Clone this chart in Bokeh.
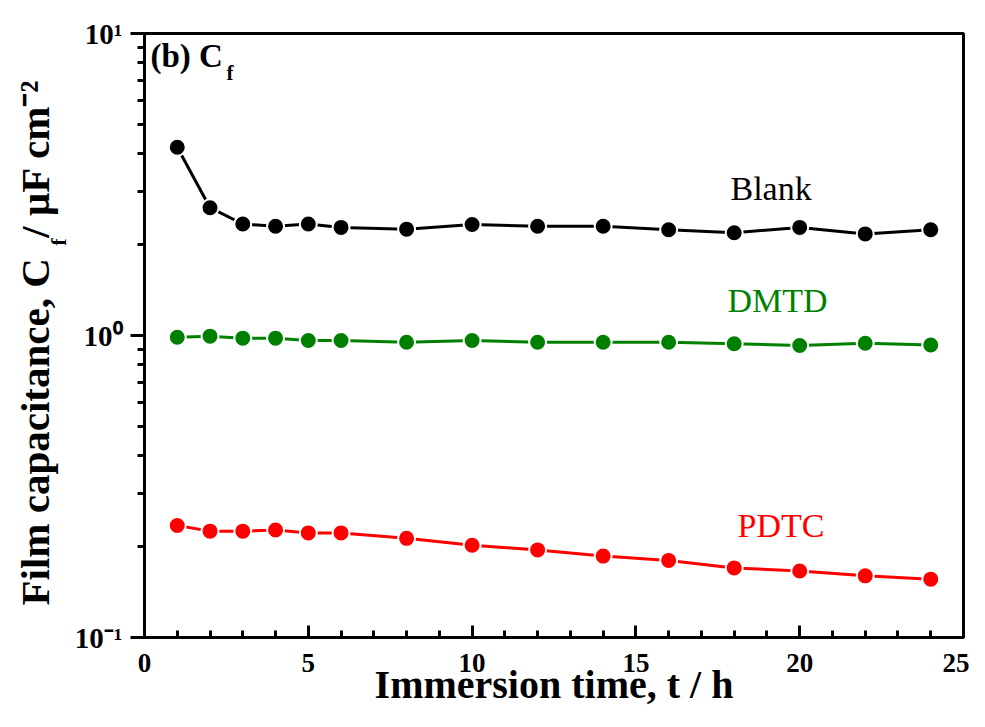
from bokeh.plotting import figure
from bokeh.models import (Range1d, Label, FixedTicker, SingleIntervalTicker,
                          CustomJSTickFormatter, Title, LogAxis)
from bokeh.embed import file_html
from bokeh.resources import INLINE

# ---------------- data ----------------
time_h = [1, 2, 3, 4, 5, 6, 8, 10, 12, 14, 16, 18, 20, 22, 24]
blank_cf = [4.20, 2.65, 2.34, 2.30, 2.34, 2.28, 2.25, 2.33, 2.30, 2.30, 2.24, 2.19, 2.28, 2.17, 2.24]
dmtd_cf = [0.987, 0.995, 0.980, 0.980, 0.963, 0.963, 0.950, 0.963, 0.950, 0.950, 0.950, 0.939, 0.927, 0.943, 0.930]
pdtc_cf = [0.235, 0.225, 0.225, 0.227, 0.222, 0.222, 0.213, 0.202, 0.195, 0.186, 0.180, 0.170, 0.166, 0.160, 0.156]

series_names = ["Blank", "DMTD", "PDTC"]
series_values = [blank_cf, dmtd_cf, pdtc_cf]
series_colors = ["#000000", "#008000", "#ff0000"]

x_major_interval = 5
y_major_ticks = [0.1, 1, 10]
y_tick_labels = ["10\u207b\u00b9", "10\u2070", "10\u00b9"]
y_minor_ticks = [0.2, 0.3, 0.4, 0.5, 0.6, 0.7, 0.8, 0.9, 2, 3, 4, 5, 6, 7, 8, 9]

x_title = "Immersion time, t / h"
y_title_main = "Film capacitance, C\u00a0\u00a0/ \u03bcF cm\u207b\u00b2"
y_title_sub = "f"
panel_title = "(b) C"
panel_title_sub = "f"

FONT = "Liberation Serif"

# ---------------- layout constants (pixels) ----------------
W, H = 969, 711
FRAME_L, FRAME_T, FRAME_R, FRAME_B = 144, 33, 963, 637
FRAME_W = FRAME_R - FRAME_L
FRAME_H = FRAME_B - FRAME_T
MID = 0.34  # distance baseline -> text middle, in em


def ypix_to_val(y):
    """pixel row -> value on the log y axis (0.1 .. 10)"""
    return 10 ** (1 - 2 * (y - FRAME_T) / FRAME_H)


def xpix_to_val(x):
    """pixel column -> value on the x axis (0 .. 25)"""
    return (x - FRAME_L) / FRAME_W * 25


# series name labels: (left x pixel, baseline y pixel)
name_pos = [(730, 200), (727, 312), (737, 537)]
name_size = 34

p = figure(width=W, height=H,
           x_range=Range1d(0, 25), y_range=Range1d(0.1, 10),
           y_axis_type="log",
           output_backend="svg", toolbar_location=None,
           min_border_left=FRAME_L, min_border_right=W - FRAME_R,
           min_border_top=FRAME_T, min_border_bottom=H - FRAME_B)

p.grid.visible = False
p.outline_line_color = "black"
p.outline_line_width = 3
p.background_fill_color = "white"
p.border_fill_color = "white"

# ---------------- x axis ----------------
xa = p.xaxis[0]
xa.ticker = SingleIntervalTicker(interval=x_major_interval, num_minor_ticks=5)
xa.axis_line_color = "black"
xa.axis_line_width = 3
xa.major_tick_line_color = "black"
xa.minor_tick_line_color = "black"
xa.major_tick_line_width = 3
xa.minor_tick_line_width = 3
xa.major_tick_in = 12
xa.major_tick_out = 0
xa.minor_tick_in = 7
xa.minor_tick_out = 0
xa.major_label_text_font = FONT
xa.major_label_text_font_style = "bold"
xa.major_label_text_font_size = "27px"
xa.major_label_text_color = "black"
xa.major_label_standoff = 16
xa.axis_label = x_title
xa.axis_label_text_font = FONT
xa.axis_label_text_font_style = "bold"
xa.axis_label_text_font_size = "40px"
xa.axis_label_text_color = "black"
xa.axis_label_standoff = -13

# ---------------- y axis: rule and ticks only ----------------
ya = p.yaxis[0]
ya.ticker = FixedTicker(ticks=y_major_ticks, minor_ticks=y_minor_ticks)
ya.formatter = CustomJSTickFormatter(code="return ''")
ya.axis_line_color = "black"
ya.axis_line_width = 3
ya.major_tick_line_color = "black"
ya.minor_tick_line_color = "black"
ya.major_tick_line_width = 3
ya.minor_tick_line_width = 3
ya.major_tick_in = 0
ya.major_tick_out = 14
ya.minor_tick_in = 0
ya.minor_tick_out = 7
ya.major_label_standoff = 0

# ---------------- y tick labels (10^n) + subscript of the y title ----------------
SUB_SIZE = 22
sub_shift = 2 * (335 - 242)            # pixels the subscript centre must move up
n_pad = round(sub_shift / (0.25 * SUB_SIZE))
yl = LogAxis(ticker=FixedTicker(ticks=y_major_ticks, minor_ticks=[]),
             formatter=CustomJSTickFormatter(args=dict(labels=y_tick_labels),
                                             code="return labels[index] ?? ''"),
             axis_line_color=None, major_tick_line_color=None, minor_tick_line_color=None,
             major_tick_in=0, major_tick_out=0, minor_tick_in=0, minor_tick_out=0,
             major_label_standoff=8,
             major_label_text_font=FONT, major_label_text_font_style="bold",
             major_label_text_font_size="29px", major_label_text_color="black",
             axis_label="\u00a0" * n_pad + y_title_sub,
             axis_label_standoff=1,
             axis_label_text_font=FONT, axis_label_text_font_style="bold",
             axis_label_text_font_size=f"{SUB_SIZE}px", axis_label_text_color="black")
p.add_layout(yl, "left")

# ---------------- main y title text ----------------
try:
    ytitle = Title(text=y_title_main, standoff=-30)
except Exception:
    ytitle = Title(text=y_title_main, standoff=0)
ytitle.align = "left"
ytitle.offset = FRAME_B - 605
ytitle.text_font = FONT
ytitle.text_font_style = "bold"
ytitle.text_font_size = "41px"
ytitle.text_color = "black"
p.add_layout(ytitle, "left")

# ---------------- series ----------------
for name, vals, col, (nx, ny) in zip(series_names, series_values, series_colors, name_pos):
    p.line(time_h, vals, line_color=col, line_width=3)
    p.scatter(time_h, vals, size=17, marker="circle", fill_color=col,
              line_color="white", line_width=2)
    p.add_layout(Label(x=xpix_to_val(nx), y=ypix_to_val(ny - MID * name_size), text=name,
                       text_font=FONT, text_font_size=f"{name_size}px",
                       text_color=col, text_align="left", text_baseline="middle"))

# ---------------- panel title (b) C_f ----------------
p.add_layout(Label(x=xpix_to_val(150), y=ypix_to_val(67 - MID * 33), text=panel_title,
                   text_font=FONT, text_font_style="bold", text_font_size="33px",
                   text_align="left", text_baseline="middle", text_color="black"))
p.add_layout(Label(x=xpix_to_val(226), y=ypix_to_val(80 - MID * 21), text=panel_title_sub,
                   text_font=FONT, text_font_style="bold", text_font_size="21px",
                   text_align="left", text_baseline="middle", text_color="black"))

open("out.html", "w").write(file_html(p, INLINE))
